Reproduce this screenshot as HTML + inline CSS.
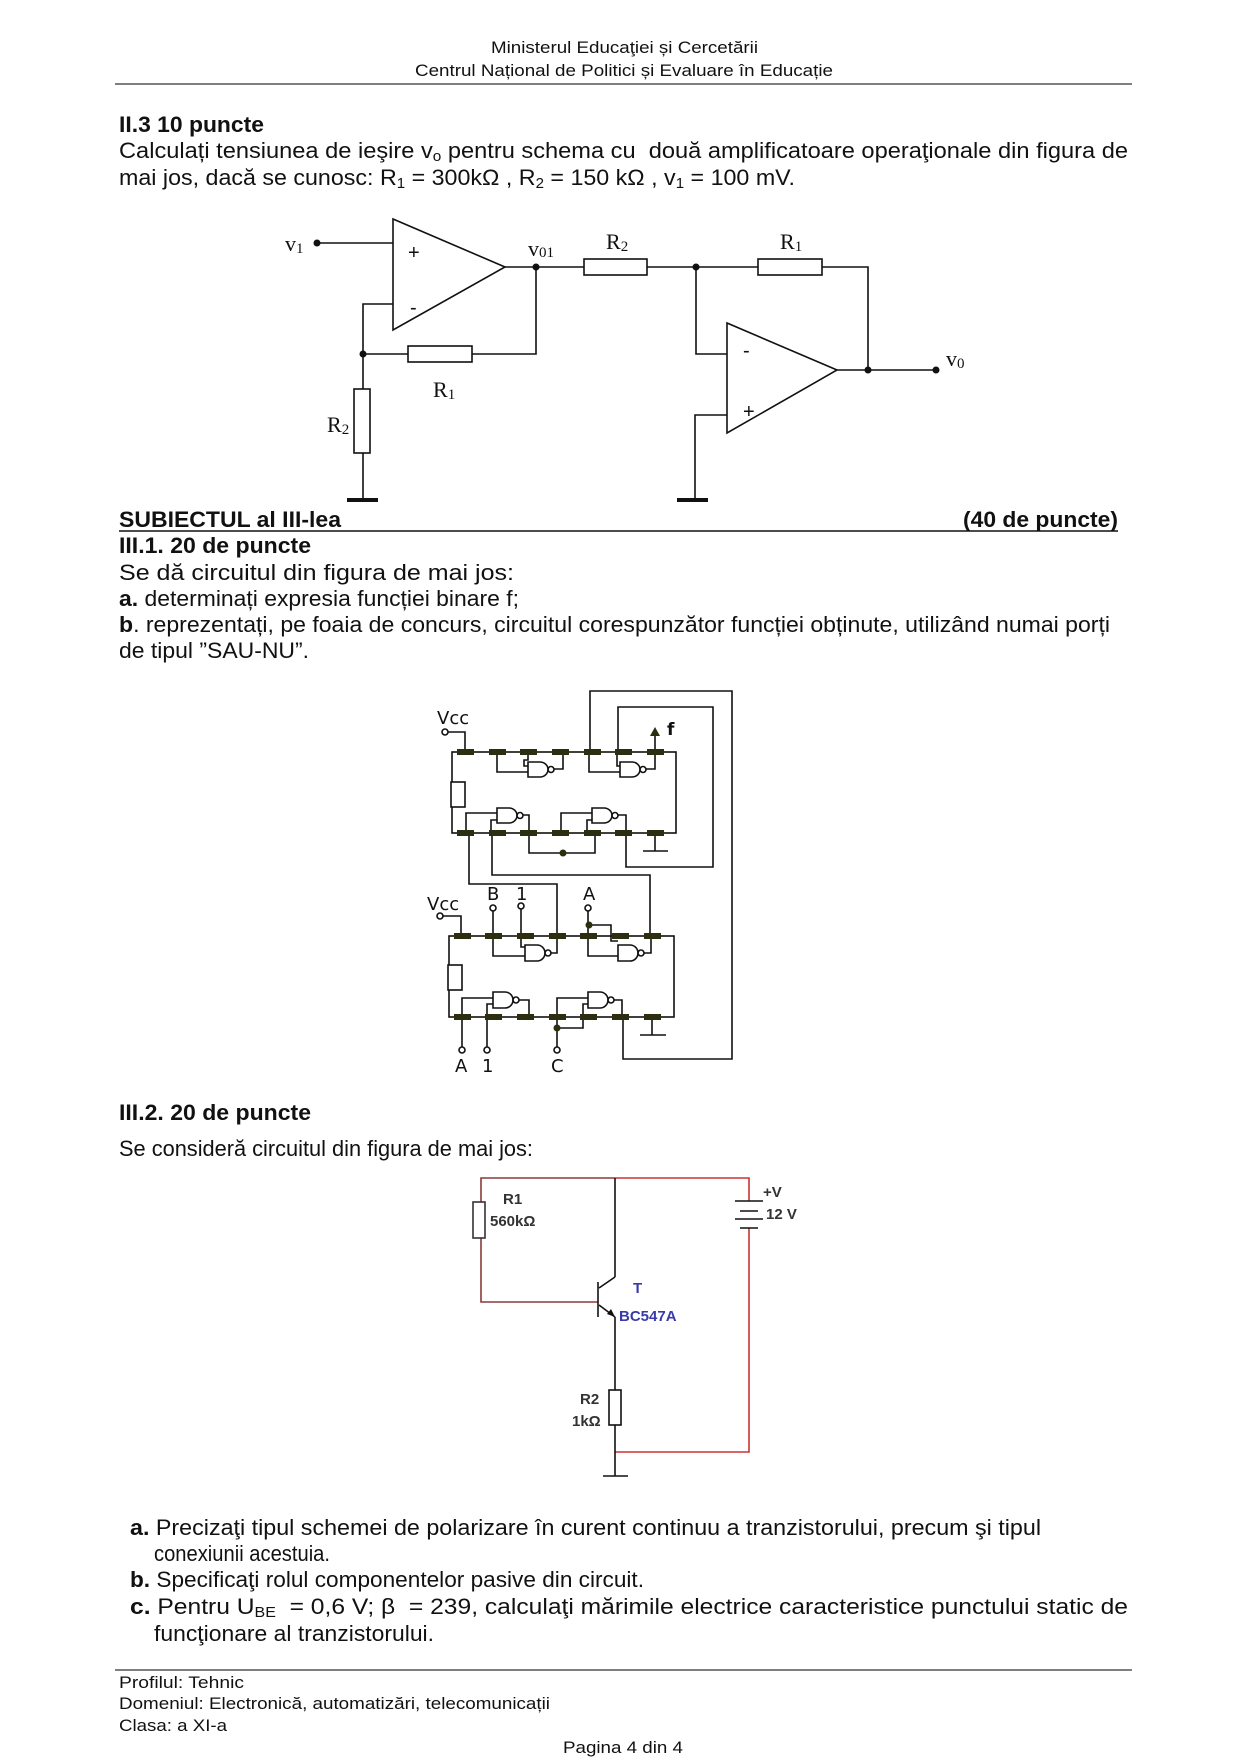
<!DOCTYPE html>
<html><head><meta charset="utf-8">
<style>
html,body{margin:0;padding:0;background:#fff}
body{width:1241px;height:1755px;position:relative;overflow:hidden;font-family:"Liberation Sans Narrow","Liberation Sans",Arial,sans-serif;color:#111}
.ln{position:absolute;white-space:nowrap;font-size:22px;line-height:26px;transform-origin:0 50%}
.ln span{display:inline-block;white-space:nowrap}
.b{font-weight:bold}
.h{font-size:17px;line-height:20px}
.f{font-size:17px;line-height:20px}
sub{font-size:65%;vertical-align:-3px;line-height:0}
svg{position:absolute;left:0;top:0}
</style></head><body>
<svg width="1241" height="1755" viewBox="0 0 1241 1755">
<line x1="115" y1="84" x2="1132" y2="84" stroke="#555" stroke-width="1.5"/>
<line x1="119" y1="531" x2="1118" y2="531" stroke="#111" stroke-width="1.5"/>
<line x1="115" y1="1670" x2="1132" y2="1670" stroke="#555" stroke-width="1.5"/>

<!-- OPAMP circuit -->
<g stroke="#111" stroke-width="1.6" fill="none">
<line x1="317" y1="243" x2="393" y2="243"/>
<polygon points="393,219 393,330 505,267" fill="#fff"/>
<line x1="505" y1="267" x2="584" y2="267"/>
<rect x="584" y="259" width="63" height="16" fill="#fff"/>
<line x1="647" y1="267" x2="758" y2="267"/>
<rect x="758" y="259" width="64" height="16" fill="#fff"/>
<polyline points="822,267 868,267 868,370"/>
<polyline points="536,267 536,354 472,354"/>
<rect x="408" y="346" width="64" height="16" fill="#fff"/>
<line x1="408" y1="354" x2="363" y2="354"/>
<polyline points="393,304 363,304 363,389"/>
<rect x="354" y="389" width="16" height="64" fill="#fff"/>
<line x1="363" y1="453" x2="363" y2="500"/>
<polyline points="696,267 696,354 727,354"/>
<polygon points="727,323 727,433 837,370" fill="#fff"/>
<polyline points="727,415 695,415 695,500"/>
<line x1="837" y1="370" x2="936" y2="370"/>
</g>
<g fill="#111">
<rect x="347" y="498" width="31" height="4"/>
<rect x="677" y="498" width="31" height="4"/>
<circle cx="317" cy="243" r="3.5"/><circle cx="536" cy="267" r="3.5"/><circle cx="696" cy="267" r="3.5"/>
<circle cx="363" cy="354" r="3.5"/><circle cx="868" cy="370" r="3.5"/><circle cx="936" cy="370" r="3.5"/>
</g>
<g font-family="Liberation Sans, sans-serif" font-size="20" fill="#111">
<text x="408" y="259">+</text><text x="410" y="314">-</text>
<text x="743" y="357">-</text><text x="743" y="418">+</text>
</g>
<g font-family="Liberation Serif, serif" font-size="22" fill="#111">
<text x="285" y="251">v<tspan font-size="15" dy="2">1</tspan></text>
<text x="528" y="256">v<tspan font-size="15" dy="1">01</tspan></text>
<text x="606" y="249">R<tspan font-size="15" dy="2">2</tspan></text>
<text x="780" y="249">R<tspan font-size="15" dy="2">1</tspan></text>
<text x="433" y="397">R<tspan font-size="15" dy="2">1</tspan></text>
<text x="327" y="432">R<tspan font-size="15" dy="2">2</tspan></text>
<text x="946" y="366">v<tspan font-size="15" dy="2">0</tspan></text>
</g>

<!-- LOGIC circuit -->
<g stroke="#111" stroke-width="1.6" fill="none">
<rect x="452" y="752" width="224" height="81"/>
<rect x="451" y="782" width="14" height="25" fill="#fff"/>
<polyline points="448,732 465,732 465,752"/>
<!-- upper top gates -->
<path d="M528,762 h12 a8,7.5 0 0 1 0,15 h-12 z"/><circle cx="551" cy="769.5" r="3"/>
<polyline points="497,752 497,772 528,772"/>
<polyline points="528,752 528,760 524,760 524,766 528,766"/>
<polyline points="554,769 563,769 563,752"/>
<path d="M620,762 h12 a8,7.5 0 0 1 0,15 h-12 z"/><circle cx="643" cy="769.5" r="3"/>
<polyline points="589,752 589,772 620,772"/>
<polyline points="617,752 617,766 620,766"/>
<polyline points="646,769 655,769 655,734"/>
<!-- upper bottom gates -->
<path d="M497,808 h12 a8,7.5 0 0 1 0,15 h-12 z"/><circle cx="520" cy="815.5" r="3"/>
<polyline points="466,833 466,813 497,813"/>
<polyline points="491,833 491,820 497,820"/>
<polyline points="523,815 529,815 529,833"/>
<path d="M592,808 h12 a8,7.5 0 0 1 0,15 h-12 z"/><circle cx="615" cy="815.5" r="3"/>
<polyline points="561,833 561,813 592,813"/>
<polyline points="587,833 587,820 592,820"/>
<polyline points="618,815 626,815 626,833"/>
<polyline points="529,833 529,853 595,853 595,833"/>
<polyline points="655,833 655,851"/>
<line x1="643" y1="851" x2="668" y2="851"/>
<polyline points="626,833 626,867 713,867 713,707 618,707 618,752"/>
<polyline points="590,752 590,691 732,691 732,1059 623,1059 623,1017"/>
<polyline points="469,833 469,884 557,884 557,936"/>
<polyline points="492,833 492,875 650,875 650,936"/>
<!-- lower chip -->
<rect x="449" y="936" width="225" height="81"/>
<rect x="448" y="965" width="14" height="25" fill="#fff"/>
<polyline points="443,916 461,916 461,936"/>
<polyline points="493,911 493,956 525,956"/>
<polyline points="521,909 521,947 525,947"/>
<path d="M525,945 h12 a8,8 0 0 1 0,16 h-12 z"/><circle cx="548" cy="953" r="3"/>
<polyline points="551,953 557,953 557,936"/>
<polyline points="588,911 588,956 618,956"/>
<polyline points="589,925 611,925 611,941 618,941"/>
<path d="M618,945 h12 a8,8 0 0 1 0,16 h-12 z"/><circle cx="641" cy="953" r="3"/>
<polyline points="644,953 651,953 651,936"/>
<path d="M493,992 h12 a8,8 0 0 1 0,16 h-12 z"/><circle cx="516" cy="1000" r="3"/>
<polyline points="462,1047 462,998 493,998"/>
<polyline points="487,1047 487,1004 493,1004"/>
<polyline points="519,1000 529,1000 529,1017"/>
<path d="M588,992 h12 a8,8 0 0 1 0,16 h-12 z"/><circle cx="611" cy="1000" r="3"/>
<polyline points="557,1047 557,998 588,998"/>
<polyline points="557,1028 583,1028 583,1004 588,1004"/>
<polyline points="614,1000 622,1000 622,1017"/>
<polyline points="652,1017 652,1035"/>
<line x1="640" y1="1035" x2="666" y2="1035"/>
<circle cx="445" cy="732" r="3"/><circle cx="440" cy="916" r="3"/>
<circle cx="493" cy="908" r="3"/><circle cx="521" cy="906" r="3"/><circle cx="588" cy="908" r="3"/>
<circle cx="462" cy="1050" r="3"/><circle cx="487" cy="1050" r="3"/><circle cx="557" cy="1050" r="3"/>
</g>
<g fill="#2d2d10">
<rect x="457" y="749" width="17" height="6"/><rect x="489" y="749" width="17" height="6"/><rect x="520" y="749" width="17" height="6"/><rect x="552" y="749" width="17" height="6"/><rect x="584" y="749" width="17" height="6"/><rect x="615" y="749" width="17" height="6"/><rect x="647" y="749" width="17" height="6"/>
<rect x="457" y="830" width="17" height="6"/><rect x="489" y="830" width="17" height="6"/><rect x="520" y="830" width="17" height="6"/><rect x="552" y="830" width="17" height="6"/><rect x="584" y="830" width="17" height="6"/><rect x="615" y="830" width="17" height="6"/><rect x="647" y="830" width="17" height="6"/>
<rect x="454" y="933" width="17" height="6"/><rect x="485" y="933" width="17" height="6"/><rect x="517" y="933" width="17" height="6"/><rect x="549" y="933" width="17" height="6"/><rect x="580" y="933" width="17" height="6"/><rect x="612" y="933" width="17" height="6"/><rect x="644" y="933" width="17" height="6"/>
<rect x="454" y="1014" width="17" height="6"/><rect x="485" y="1014" width="17" height="6"/><rect x="517" y="1014" width="17" height="6"/><rect x="549" y="1014" width="17" height="6"/><rect x="580" y="1014" width="17" height="6"/><rect x="612" y="1014" width="17" height="6"/><rect x="644" y="1014" width="17" height="6"/>
<polygon points="650,736 655,727 660,736"/>
<circle cx="563" cy="853" r="3.5"/><circle cx="589" cy="925" r="3.5"/><circle cx="557" cy="1028" r="3.5"/>
</g>
<g font-family="DejaVu Sans, sans-serif" font-size="18" fill="#111">
<text x="437" y="724">Vcc</text>
<text x="667" y="735" font-weight="bold" font-size="17">f</text>
<text x="427" y="910">Vcc</text>
<text x="487" y="900">B</text><text x="516" y="900">1</text><text x="583" y="900">A</text>
<text x="455" y="1072">A</text><text x="482" y="1072">1</text><text x="551" y="1072">C</text>
</g>

<!-- Transistor circuit -->
<g fill="none" stroke-width="1.6">
<polyline points="615,1178 481,1178 481,1202" stroke="#8b3a3a"/>
<polyline points="481,1238 481,1302 598,1302" stroke="#8b3a3a"/>
<rect x="473" y="1202" width="12" height="36" stroke="#333"/>
<polyline points="615,1178 749,1178 749,1201" stroke="#c33"/>
<polyline points="749,1228 749,1452 615,1452" stroke="#c33"/>
<g stroke="#111">
<line x1="615" y1="1178" x2="615" y2="1277"/>
<line x1="615" y1="1277" x2="599" y2="1288"/>
<line x1="598" y1="1282" x2="598" y2="1317"/>
<line x1="599" y1="1305" x2="615" y2="1317"/>
<line x1="615" y1="1317" x2="615" y2="1390"/>
<rect x="609" y="1390" width="12" height="35"/>
<line x1="615" y1="1425" x2="615" y2="1476"/>
<line x1="603" y1="1476" x2="628" y2="1476"/>
<line x1="735" y1="1201" x2="763" y2="1201"/>
<line x1="740" y1="1211" x2="758" y2="1211"/>
<line x1="735" y1="1219" x2="763" y2="1219"/>
<line x1="740" y1="1228" x2="758" y2="1228"/>
</g>
</g>
<polygon points="615,1317 607,1314 611,1309" fill="#111"/>
<g font-family="Liberation Sans, sans-serif" font-size="15" font-weight="bold" fill="#333">
<text x="503" y="1204">R1</text><text x="490" y="1226">560kΩ</text>
<text x="763" y="1197">+V</text><text x="766" y="1219">12 V</text>
<text x="580" y="1404">R2</text><text x="572" y="1426">1kΩ</text>
</g>
<g font-family="Liberation Sans, sans-serif" font-size="15" font-weight="bold" fill="#3a3aa8">
<text x="633" y="1293">T</text><text x="619" y="1321">BC547A</text>
</g>
</svg>

<div class="ln h" style="left:491px;top:38px;width:267px"><span>Ministerul Educaţiei și Cercetării</span></div>
<div class="ln h" style="left:415px;top:61px;width:418px"><span>Centrul Național de Politici și Evaluare în Educație</span></div>

<div class="ln b" style="left:119px;top:112px;width:145px"><span>II.3 10 puncte</span></div>
<div class="ln" style="left:119px;top:138px;width:1009px"><span>Calculați tensiunea de ieşire v<sub>o</sub> pentru schema cu&nbsp; două amplificatoare operaţionale din figura de</span></div>
<div class="ln" style="left:119px;top:165px;width:676px"><span>mai jos, dacă se cunosc: R<sub>1</sub> = 300kΩ , R<sub>2</sub> = 150 kΩ , v<sub>1</sub> = 100 mV.</span></div>

<div class="ln b" style="left:119px;top:507px;width:222px"><span>SUBIECTUL al III-lea</span></div>
<div class="ln b" style="left:963px;top:507px;width:155px"><span>(40 de puncte)</span></div>
<div class="ln b" style="left:119px;top:533px;width:192px"><span>III.1. 20 de puncte</span></div>
<div class="ln" style="left:119px;top:560px;width:395px"><span>Se dă circuitul din figura de mai jos:</span></div>
<div class="ln" style="left:119px;top:586px;width:400px"><span><b>a.</b> determinați expresia funcției binare f;</span></div>
<div class="ln" style="left:119px;top:612px;width:991px"><span><b>b</b>. reprezentați, pe foaia de concurs, circuitul corespunzător funcției obținute, utilizând numai porți</span></div>
<div class="ln" style="left:119px;top:638px;width:190px"><span>de tipul ”SAU-NU”.</span></div>

<div class="ln b" style="left:119px;top:1100px;width:192px"><span>III.2. 20 de puncte</span></div>
<div class="ln" style="left:119px;top:1136px;width:414px"><span>Se consideră circuitul din figura de mai jos:</span></div>

<div class="ln" style="left:130px;top:1515px;width:911px"><span><b>a.</b> Precizaţi tipul schemei de polarizare în curent continuu a tranzistorului, precum şi tipul</span></div>
<div class="ln" style="left:154px;top:1541px;width:176px"><span>conexiunii acestuia.</span></div>
<div class="ln" style="left:130px;top:1567px;width:514px"><span><b>b.</b> Specificaţi rolul componentelor pasive din circuit.</span></div>
<div class="ln" style="left:130px;top:1594px;width:998px"><span><b>c.</b> Pentru U<sub>BE</sub> &nbsp;= 0,6 V; β &nbsp;= 239, calculaţi mărimile electrice caracteristice punctului static de</span></div>
<div class="ln" style="left:154px;top:1621px;width:280px"><span>funcţionare al tranzistorului.</span></div>

<div class="ln f" style="left:119px;top:1673px;width:125px"><span>Profilul: Tehnic</span></div>
<div class="ln f" style="left:119px;top:1694px;width:431px"><span>Domeniul: Electronică, automatizări, telecomunicații</span></div>
<div class="ln f" style="left:119px;top:1716px;width:108px"><span>Clasa: a XI-a</span></div>
<div class="ln f" style="left:563px;top:1738px;width:120px"><span>Pagina 4 din 4</span></div>

<script>
document.querySelectorAll('.ln').forEach(function(d){
  var s=d.firstElementChild; var target=parseFloat(d.style.width); var w=s.getBoundingClientRect().width;
  if(w>0){d.style.transform='scaleX('+(target/w)+')';d.style.width='auto';}
});
</script>
</body></html>
